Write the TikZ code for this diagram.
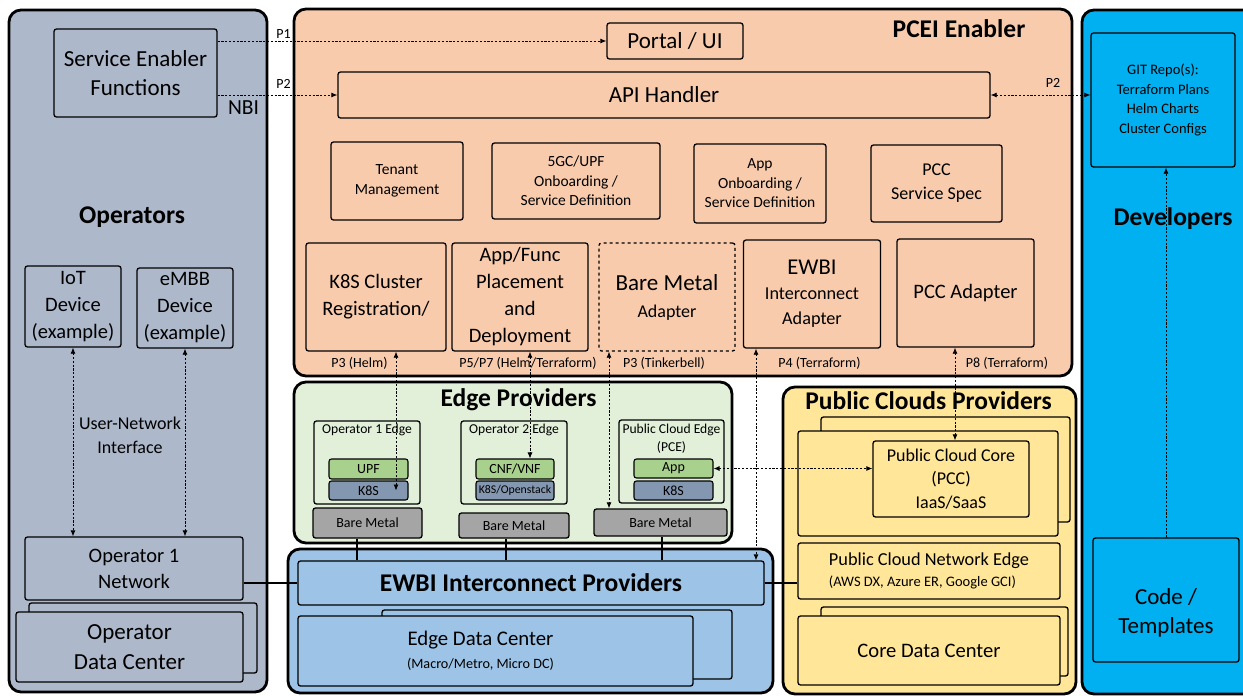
\documentclass[tikz,border=0pt]{standalone}
\usepackage{fontspec}
\setmainfont{Carlito}
\usepackage{tikz}
\usetikzlibrary{positioning, arrows.meta, calc}
\definecolor{opcolor}{RGB}{173,185,202}
\definecolor{pceicolor}{RGB}{248,203,173}
\definecolor{edgecolor}{RGB}{226,240,217}
\definecolor{greenbox}{RGB}{169,209,142}
\definecolor{k8scolor}{RGB}{132,151,176}
\definecolor{metalcolor}{RGB}{165,165,165}
\definecolor{ewbicolor}{RGB}{157,195,230}
\definecolor{cloudcolor}{RGB}{255,230,153}
\definecolor{devcolor}{RGB}{0,176,240}

\begin{document}
\begin{tikzpicture}[x=1pt, y=-1pt,
    >={Latex[length=6pt,width=5pt]},
    panel/.style={draw, line width=2.8, rounded corners=12},
    box/.style={draw, line width=1.3, rounded corners=2.5, align=center, inner sep=0},
    ftitle/.style={font=\fontsize{25.5}{30}\selectfont\bfseries},
    fhuge/.style={font=\fontsize{23}{29}\selectfont},
    fbig/.style={font=\fontsize{20.5}{27}\selectfont},
    fmid/.style={font=\fontsize{18}{24}\selectfont},
    fsmall/.style={font=\fontsize{15.5}{19.5}\selectfont},
    flabel/.style={font=\fontsize{14}{18}\selectfont},
    link/.style={line width=0.8, dash pattern=on 2.2pt off 1.6pt},
    wire/.style={line width=2}
]
\useasboundingbox (0,0) rectangle (1243,696);
\clip (0,0) rectangle (1243,696);

% Operators
\draw[panel, fill=opcolor] (9,10) rectangle (267,692);
\node[box, fhuge, minimum width=163, minimum height=88] (sef) at (135.5,73) {Service Enabler\\Functions};
\node[font=\fontsize{21.5}{26}\selectfont] (nbi) at (243.5,108) {NBI};
\node[ftitle] (opers) at (132,217) {Operators};
\node[box, fbig, minimum width=96, minimum height=81] (iot) at (73,306.5) {IoT\\Device\\(example)};
\node[box, fbig, minimum width=96, minimum height=80] (embb) at (185,308) {eMBB\\Device\\(example)};
\node[fmid, align=center] (uni) at (130,435) {User-Network\\Interface};
\node[box, font=\fontsize{20.5}{26}\selectfont, minimum width=218, minimum height=63] (opnet) at (134,568.5) {Operator 1\\Network};
\draw[box, fill=opcolor] (29,603) rectangle (257,673);
\node[box, font=\fontsize{23}{30}\selectfont, fill=opcolor, minimum width=227, minimum height=70] (opdc) at (129.5,647) {Operator\\Data Center};

% PCEI Enabler
\draw[panel, fill=pceicolor] (294,9) rectangle (1072,376);
\node[ftitle] (pceititle) at (959,29) {PCEI Enabler};
\node[box, fhuge, minimum width=136, minimum height=36] (portal) at (675,41) {Portal / UI};
\node[box, fhuge, minimum width=652, minimum height=46] (api) at (664,95) {API Handler};
\node[box, fsmall, minimum width=132, minimum height=78] (tenant) at (397,181) {Tenant\\Management};
\node[box, fsmall, minimum width=168, minimum height=76] (fivegc) at (576,181) {5GC/UPF\\Onboarding /\\Service Definition};
\node[box, fsmall, minimum width=132, minimum height=79] (appon) at (760,183.5) {App\\Onboarding /\\Service Definition};
\node[box, fmid, minimum width=131, minimum height=77] (pccspec) at (936.5,183.5) {PCC\\Service Spec};
\node[box, fbig, minimum width=140, minimum height=108] (k8sreg) at (376,297) {K8S Cluster\\Registration/};
\node[box, fbig, minimum width=136, minimum height=108] (appfunc) at (520,297) {App/Func\\Placement\\and\\Deployment};
\node[box, dashed, font=\fontsize{18}{27}\selectfont, minimum width=136, minimum height=108] (bmadapt) at (667,297) {{\fontsize{23}{27}\selectfont Bare Metal}\\Adapter};
\node[box, font=\fontsize{18.2}{25}\selectfont, minimum width=137, minimum height=108] (ewbiad) at (812,294) {{\fontsize{22.6}{25}\selectfont EWBI}\\Interconnect\\Adapter};
\node[box, fbig, minimum width=137, minimum height=108] (pccad) at (965.5,293) {PCC Adapter};
\node[flabel] (lp3) at (359.5,363) {P3 (Helm)};
\node[flabel] (lp57) at (528,363) {P5/P7 (Helm/Terraform)};
\node[flabel] (lp3t) at (664,363) {P3 (Tinkerbell)};
\node[flabel] (lp4) at (819.5,363) {P4 (Terraform)};
\node[flabel] (lp8) at (1007,363) {P8 (Terraform)};
\node[flabel] (lp1) at (283.5,34) {P1};
\node[flabel] (lp2) at (283.5,84) {P2};
\node[flabel] (lp2r) at (1053,83) {P2};

% Edge Providers
\draw[panel, fill=edgecolor] (294,382) rectangle (732,543);
\node[ftitle] (edgetitle) at (518.5,400) {Edge Providers};
\node[box, minimum width=106, minimum height=83] (op1edge) at (367,462.5) {};
\node[font=\fontsize{13.6}{18}\selectfont] (op1lbl) at ([yshift=-10pt]op1edge.north) {Operator 1 Edge};
\node[box, flabel, line width=1.1, fill=greenbox, minimum width=79, minimum height=20] (upf) at (368.5,469) {UPF};
\node[box, flabel, line width=1.1, fill=k8scolor, minimum width=79, minimum height=19] (k8sa) at (368.5,490.5) {K8S};
\node[box, minimum width=106, minimum height=83] (op2edge) at (514,462.5) {};
\node[font=\fontsize{13.6}{18}\selectfont] (op2lbl) at ([yshift=-10pt]op2edge.north) {Operator 2 Edge};
\node[box, flabel, line width=1.1, fill=greenbox, minimum width=78, minimum height=20] (cnf) at (515,469) {CNF/VNF};
\node[box, line width=1.1, fill=k8scolor, font=\fontsize{11.8}{14}\selectfont, minimum width=78, minimum height=19] (k8sb) at (515,490.5) {K8S/Openstack};
\node[box, minimum width=105, minimum height=83] (pce) at (671.5,461.5) {};
\node[font=\fontsize{13.6}{18}\selectfont, align=center] (pcelbl) at ([yshift=-19pt]pce.north) {Public Cloud Edge\\(PCE)};
\node[box, flabel, line width=1.1, fill=greenbox, minimum width=79, minimum height=19] (appbox) at (673.5,468.5) {App};
\node[box, flabel, line width=1.1, fill=k8scolor, minimum width=79, minimum height=19] (k8sc) at (673.5,490.5) {K8S};
\node[box, flabel, fill=metalcolor, minimum width=109, minimum height=30] (bm1) at (367.5,523) {Bare Metal};
\node[box, flabel, fill=metalcolor, minimum width=110, minimum height=25] (bm2) at (514,525.5) {Bare Metal};
\node[box, flabel, fill=metalcolor, minimum width=133, minimum height=27] (bm3) at (660.5,522.5) {Bare Metal};

% EWBI Interconnect Providers
\draw[panel, fill=ewbicolor] (288,549) rectangle (773,693);
\node[box, ftitle, minimum width=466, minimum height=44] (ewbi) at (531,583) {EWBI Interconnect Providers};
\draw[box, fill=ewbicolor] (382,610) rectangle (732,679);
\node[box, fill=ewbicolor, minimum width=395, minimum height=70] (edc) at (495.5,651) {};
\node[font=\fontsize{14.2}{23}\selectfont, align=center] (edctxt) at ([xshift=-15pt]edc.center) {{\fontsize{20.8}{23}\selectfont Edge Data Center}\\(Macro/Metro, Micro DC)};

% Public Clouds Providers
\draw[panel, fill=cloudcolor] (783,387) rectangle (1076,694);
\node[ftitle] (cloudtitle) at (928.5,401) {Public Clouds Providers};
\draw[box, fill=cloudcolor] (821,417) rectangle (1070,522);
\node[box, fill=cloudcolor, minimum width=260, minimum height=105] (pcczone) at (928,483.5) {};
\node[box, font=\fontsize{18}{23.5}\selectfont, minimum width=156, minimum height=76] (pcc) at (951,479) {Public Cloud Core\\(PCC)\\IaaS/SaaS};
\node[box, align=left, font=\fontsize{14.5}{21}\selectfont, minimum width=262, minimum height=56] (pcne) at (929,571) {{\fontsize{18.3}{21}\selectfont Public Cloud Network Edge}\\(AWS DX, Azure ER, Google GCI)};
\draw[box, fill=cloudcolor] (821,607) rectangle (1068,676);
\node[box, font=\fontsize{20.6}{25}\selectfont, fill=cloudcolor, minimum width=262, minimum height=69] (cdc) at (929,650.5) {Core Data Center};

% Developers
\draw[panel, fill=devcolor] (1082,10) rectangle (1275,694);
\node[box, font=\fontsize{14.5}{19.5}\selectfont, minimum width=144, minimum height=134] (git) at (1163,100) {GIT Repo(s):\\Terraform Plans\\Helm Charts\\Cluster Configs};
\node[ftitle] (devtitle) at (1173,219) {Developers};
\node[box, minimum width=146, minimum height=124] (code) at (1166,600) {};
\node[fhuge, align=center] (codetxt) at ([yshift=-13pt]code.center) {Code /\\Templates};

% solid links
\draw[wire] (opnet.east |- ewbi.west) -- (ewbi.west);
\draw[wire] (ewbi.east) -- (ewbi.east -| pcne.west);
\draw[wire] ([xshift=-10.5pt]bm1.south) -- ([xshift=-10.5pt]bm1.south |- ewbi.north);
\draw[wire] ([xshift=-8pt]bm2.south) -- ([xshift=-8pt]bm2.south |- ewbi.north);
\draw[wire] ([xshift=1.5pt]bm3.south) -- ([xshift=1.5pt]bm3.south |- ewbi.north);

% dashed interfaces
\draw[link, ->] (portal.west -| sef.east) -- (portal.west);
\draw[link, ->] (api.west -| sef.east) -- (api.west);
\draw[link, <->] (api.east) -- (api.east -| git.west);
\draw[link, <->] (iot.south) -- (iot.south |- opnet.north);
\draw[link, <->] (embb.south) -- (embb.south |- opnet.north);
\draw[link, <->] ([xshift=20pt]k8sreg.south) -- ([xshift=20pt]k8sreg.south |- k8sa.center);
\draw[link, <->] ([xshift=10pt]appfunc.south) -- ([xshift=10pt]appfunc.south |- cnf.north);
\draw[link, <->] ([xshift=-58pt]bmadapt.south) -- ([xshift=-58pt]bmadapt.south |- bm3.north);
\draw[link, <->] ([xshift=-56pt]ewbiad.south) -- ([xshift=-56pt]ewbiad.south |- ewbi.north);
\draw[link, <->] ([xshift=-10.5pt]pccad.south) -- ([xshift=-10.5pt]pccad.south |- pcc.north);
\draw[link, <->] (appbox.east) -- (appbox.east -| pcc.west);
\draw[link, ->] (code.north) -- (code.north |- git.south);

\end{tikzpicture}
\end{document}
